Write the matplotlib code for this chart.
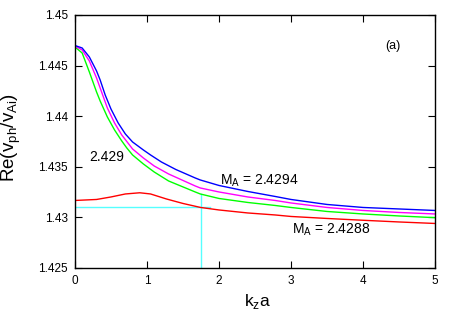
import matplotlib
matplotlib.use('Agg')
import matplotlib.pyplot as plt
import numpy as np

plt.rcParams['font.family'] = ['Liberation Sans', 'DejaVu Sans']
plt.rcParams['mathtext.fontset'] = 'custom'
plt.rcParams['mathtext.rm'] = 'Liberation Sans'


def py2y(py):
    # values in pixel rows, turned into data units
    return [1.45 - (p - 15) / 10120.0 for p in py]


# blue curve (top)
x_blue = [0, 0.1, 0.2, 0.3, 0.35, 0.42, 0.5, 0.6, 0.7, 0.8, 0.95, 1.05, 1.2, 1.4,
          1.67, 1.74, 2.0, 2.4, 2.78, 3.0, 3.5, 4.0, 4.5, 5.0]
y_blue = py2y([45.5, 48, 57, 71, 80, 95, 109, 123, 134, 142, 150, 155, 162, 169.5,
               178, 180, 185.5, 191.5, 196.5, 199.5, 204.5, 207.5, 209, 210.5])

# magenta curve
x_mag = [0, 0.1, 0.2, 0.3, 0.375, 0.45, 0.55, 0.65, 0.8, 0.95, 1.1, 1.3,
         1.67, 1.74, 2.0, 2.4, 2.78, 3.0, 3.5, 4.0, 4.5, 5.0]
y_mag = py2y([46, 50, 61, 78, 93, 108, 123, 135, 149, 158, 166, 174,
              186, 188, 192, 197, 200.5, 203, 207.5, 210.5, 212.5, 214])

# green curve
x_green = [0, 0.1, 0.2, 0.3, 0.35, 0.45, 0.55, 0.65, 0.72, 0.8, 0.95, 1.1, 1.3,
           1.67, 1.74, 2.0, 2.4, 2.78, 3.0, 3.5, 4.0, 4.5, 5.0]
y_green = py2y([47, 53, 72, 92, 101, 117, 130, 141, 148, 155, 164, 172, 181,
                192, 194, 198.5, 202.5, 205.5, 207.5, 211.5, 214, 216, 217.7])

# red curve (bottom, with hump)
x_red = [0, 0.3, 0.5, 0.7, 0.9, 1.05, 1.27, 1.5, 1.745, 2.0, 2.4, 2.78, 3.0,
         3.5, 4.0, 4.5, 5.0]
y_red = py2y([200.5, 199.5, 197, 194, 192.8, 194, 199, 203.5, 207.5, 210, 213,
              215, 216.5, 218.5, 220.3, 222, 223.5])

# cyan guide lines
x_guide = 1.745
y_guide = 1.431
x_hline_end = 1.875
y_vline_top = 1.4323

fig = plt.figure(figsize=(4.57, 3.19), dpi=100)
ax = fig.add_axes([0.164, 0.160, 0.788, 0.793])

ax.plot([0, x_hline_end], [y_guide, y_guide], color='#55ffff', lw=1)
ax.plot([x_guide, x_guide], [1.425, y_vline_top], color='#55ffff', lw=1)
ax.plot(x_red, y_red, color='#ff0000', lw=1)
ax.plot(x_green, y_green, color='#00ff00', lw=1)
ax.plot(x_mag, y_mag, color='#ff00ff', lw=1)
ax.plot(x_blue, y_blue, color='#0000ff', lw=1)

ax.set_xlim(0, 5)
ax.set_ylim(1.425, 1.45)
ax.set_xticks(np.arange(0, 6, 1))
ax.set_xticklabels(['0', '1', '2', '3', '4', '5'])
yt = [1.425, 1.43, 1.435, 1.44, 1.445, 1.45]
ax.set_yticks(yt)
ax.set_yticklabels(['%g' % v for v in yt])
ax.tick_params(direction='in', length=5, width=0.8, top=True, right=True,
               labelsize=8.5, pad=5)
for s in ax.spines.values():
    s.set_linewidth(1)

ax.set_xlabel('k$_\\mathregular{z}$a', fontsize=12.5)
ax.xaxis.set_label_coords(0.508, -0.095)
ax.set_ylabel('Re(v$_\\mathregular{ph}$/v$_\\mathregular{Ai}$)', fontsize=13.5)
ax.yaxis.set_label_coords(-0.145, 0.515)

ax.text(4.42, 1.44694, '(a)', fontsize=9, ha='center', va='center')
ax.text(0.44, 1.43597, '2.429', fontsize=10, ha='center', va='center')
ax.text(2.01, 1.4336, 'M$_\\mathregular{A}$ = 2.4294', fontsize=10, ha='left', va='center')
ax.text(3.01, 1.42875, 'M$_\\mathregular{A}$ = 2.4288', fontsize=10, ha='left', va='center')

fig.savefig('out.png', dpi=100)
